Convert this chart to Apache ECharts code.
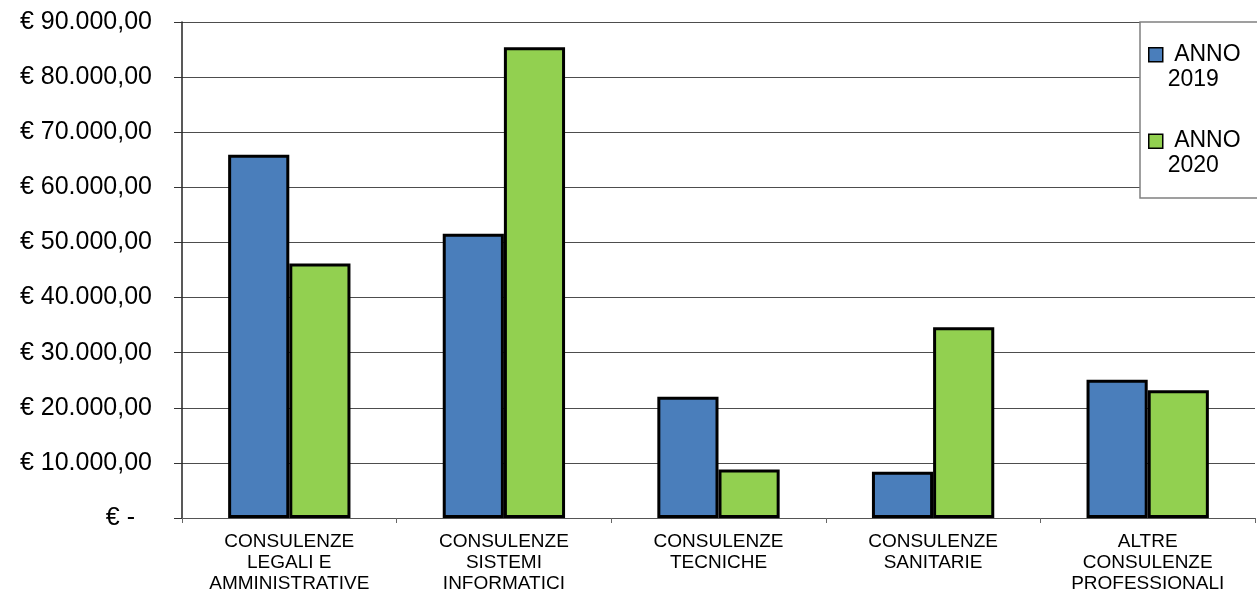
<!DOCTYPE html>
<html>
<head>
<meta charset="utf-8">
<script src="https://cdn.jsdelivr.net/npm/echarts@6/dist/echarts.min.js"></script>
<style>
  html, body { margin: 0; padding: 0; background: #fff; }
  #chart { width: 1257px; height: 595px; }
</style>
</head>
<body>
<div id="chart"></div>
<script>
// Spesa per consulenze, confronto 2019 / 2020
const categories = [
  'CONSULENZE\nLEGALI E\nAMMINISTRATIVE',
  'CONSULENZE\nSISTEMI\nINFORMATICI',
  'CONSULENZE\nTECNICHE',
  'CONSULENZE\nSANITARIE',
  'ALTRE\nCONSULENZE\nPROFESSIONALI'
];
const anno2019 = [65900, 51600, 22000, 8400, 25100];
const anno2020 = [46200, 85400, 8800, 34600, 23200];

const yTicks = [0, 10000, 20000, 30000, 40000, 50000, 60000, 70000, 80000, 90000];
const yTickLabels = [
  '€ -', '€ 10.000,00', '€ 20.000,00', '€ 30.000,00', '€ 40.000,00',
  '€ 50.000,00', '€ 60.000,00', '€ 70.000,00', '€ 80.000,00', '€ 90.000,00'
];
const seriesNames = ['ANNO 2019', 'ANNO 2020'];

const FONT = '"Liberation Sans", Arial, sans-serif';

// legend marker: square sitting on the first text line of a two-line label
const legendIcon = 'path://M0,0M0,6L14,6L14,20L0,20ZM0,50';

const chart = echarts.init(document.getElementById('chart'), null, { renderer: 'canvas' });

chart.setOption({
  animation: false,
  backgroundColor: '#ffffff',
  textStyle: { fontFamily: FONT },
  grid: { left: 182, right: 2, top: 22, bottom: 77, containLabel: false },
  legend: {
    orient: 'vertical',
    left: 1140,
    top: 22,
    padding: [19, 40, 19, 8],
    itemGap: 35,
    itemWidth: 14,
    itemHeight: 50,
    icon: legendIcon,
    backgroundColor: '#ffffff',
    borderColor: '#808080',
    borderWidth: 1.5,
    borderRadius: 0,
    data: seriesNames,
    formatter: function (name) {
      const parts = name.split(' ');
      return ' ' + parts[0] + '\n' + parts[1];
    },
    itemStyle: { borderColor: '#000', borderWidth: 1.5 },
    textStyle: { fontFamily: FONT, fontSize: 23, lineHeight: 25, color: '#000' }
  },
  xAxis: {
    type: 'category',
    data: categories,
    axisLine: { show: true, lineStyle: { color: '#555', width: 1 } },
    axisTick: { show: true, alignWithLabel: false, length: 5, lineStyle: { color: '#666' } },
    axisLabel: {
      interval: 0,
      margin: 13,
      color: '#000',
      fontFamily: FONT,
      fontSize: 19,
      lineHeight: 21
    },
    splitLine: { show: false }
  },
  yAxis: {
    type: 'value',
    min: 0,
    max: 90000,
    interval: 10000,
    axisLine: { show: true, lineStyle: { color: '#222', width: 1.5 } },
    axisTick: { show: true, length: 8, lineStyle: { color: '#333' } },
    axisLabel: {
      margin: 30,
      color: '#000',
      fontFamily: FONT,
      fontSize: 25,
      formatter: function (v) {
        const i = yTicks.indexOf(v);
        const t = i >= 0 ? yTickLabels[i] : '';
        return v === 0 ? '{z|' + t + '}' : t;
      },
      rich: {
        z: { fontFamily: FONT, fontSize: 25, color: '#000', padding: [0, 17, 0, 0] }
      }
    },
    splitLine: { show: true, lineStyle: { color: '#4d4d4d', width: 1.2 } }
  },
  series: [
    {
      name: seriesNames[0],
      type: 'bar',
      data: anno2019,
      barGap: '0%',
      barCategoryGap: '43%',
      itemStyle: { color: '#4A7EBB', borderColor: '#000', borderWidth: 3 }
    },
    {
      name: seriesNames[1],
      type: 'bar',
      data: anno2020,
      barGap: '0%',
      barCategoryGap: '43%',
      itemStyle: { color: '#92D050', borderColor: '#000', borderWidth: 3 }
    }
  ]
});
</script>
</body>
</html>
